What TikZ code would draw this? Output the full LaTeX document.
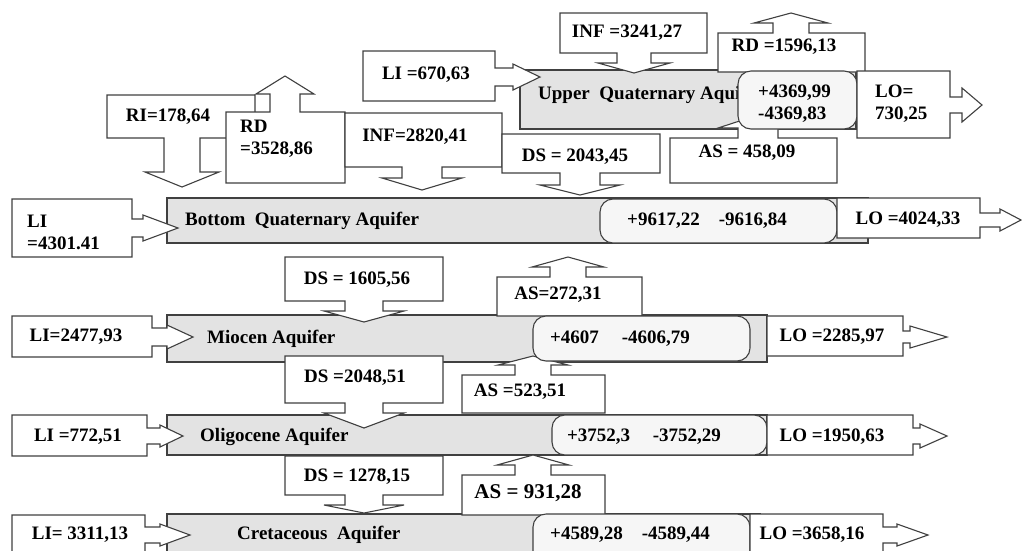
\documentclass[tikz,border=0pt]{standalone}
\usepackage{fontspec}
\setmainfont{Liberation Serif}
\usepackage{tikz}

\newcommand{\downcall}[9]{\draw[cbox] (#1,#2) -- (#3,#2) -- (#3,#4) -- ({#5+#6},#4) -- ({#5+#6},#8) -- ({#5+#7},#8) -- (#5,#9) -- ({#5-#7},#8) -- ({#5-#6},#8) -- ({#5-#6},#4) -- (#1,#4) -- cycle;}
\newcommand{\upcall}[9]{\draw[cbox] (#1,#4) -- (#3,#4) -- (#3,#2) -- ({#5+#6},#2) -- ({#5+#6},#8) -- ({#5+#7},#8) -- (#5,#9) -- ({#5-#7},#8) -- ({#5-#6},#8) -- ({#5-#6},#2) -- (#1,#2) -- cycle;}
\newcommand{\rightcall}[9]{\draw[cbox] (#1,#2) -- (#3,#2) -- (#3,{#5-#6}) -- (#8,{#5-#6}) -- (#8,{#5-#7}) -- (#9,#5) -- (#8,{#5+#7}) -- (#8,{#5+#6}) -- (#3,{#5+#6}) -- (#3,#4) -- (#1,#4) -- cycle;}

\begin{document}
\begin{tikzpicture}[x=1pt,y=-1pt]
	\tikzstyle{cbox}=[draw=black!75,fill=white,line width=1.1pt]
	\tikzstyle{aquifer}=[draw=black!75,fill=gray!22,line width=1.1pt]
	\tikzstyle{balance}=[draw=black!75,fill=gray!7,line width=1.1pt,rounded corners=13pt]
	\tikzstyle{lbl}=[inner sep=0pt,font=\bfseries\fontsize{19}{22}\selectfont]

	\useasboundingbox (0,0) rectangle (1022,550);
	\clip (0,0) rectangle (1022,550);

	\draw[aquifer] (520,70) rectangle (856,129);
	\node[lbl,anchor=west](upper) at (538,95) {Upper\hspace{0.25em} Quaternary Aquifer};
	\draw[aquifer] (167,198) rectangle (868,243);
	\node[lbl,anchor=west](bottom) at (185,221) {Bottom\hspace{0.25em} Quaternary Aquifer};
	\draw[aquifer] (167,315) rectangle (767,362);
	\node[lbl,anchor=west](miocen) at (207,339) {Miocen Aquifer};
	\draw[aquifer] (167,415) rectangle (767,455);
	\node[lbl,anchor=west](oligo) at (200,437) {Oligocene Aquifer};
	\draw[aquifer] (167,514) rectangle (760,600);
	\node[lbl,anchor=west](creta) at (237,535) {Cretaceous\hspace{0.25em} Aquifer};

	\downcall{560}{13}{707}{53}{634}{17}{36}{63}{73}
	\node[lbl](infU) at (627,33) {INF =3241,27};
	\upcall{718}{33}{865}{72}{791}{18}{37}{23}{13}
	\node[lbl](rdU) at (784,47) {RD =1596,13};
	\rightcall{363}{51}{495}{101}{77}{9}{13}{513}{540}
	\node[lbl](liU) at (426,75) {LI =670,63};
	\upcall{670}{138}{837}{183}{758}{20}{40}{128}{115}
	\node[lbl](asU) at (747,153) {AS = 458,09};

	\downcall{107}{95}{255}{138}{182}{18}{37}{172}{187}
	\node[lbl](riB) at (168,117) {RI=178,64};
	\upcall{226}{112}{345}{183}{285}{15}{29}{94}{76}
	\node[lbl,anchor=west,align=left](rdB) at (240,139) {RD\\=3528,86};
	\downcall{345}{113}{502}{167}{422}{20}{40}{178}{190}
	\node[lbl](infB) at (415,137) {INF=2820,41};
	\downcall{502}{134}{660}{173}{580}{20}{40}{185}{195}
	\node[lbl](dsB) at (575,157) {DS = 2043,45};
	\rightcall{12}{199}{132}{257}{228}{9}{13}{143}{178}
	\node[lbl,anchor=west,align=left](liB) at (27,232) {LI\\=4301.41};

	\downcall{285}{257}{443}{301}{364}{19}{40}{311}{322}
	\node[lbl](dsM) at (357,280) {DS = 1605,56};
	\upcall{497}{277}{642}{316}{568}{18}{36}{267}{257}
	\node[lbl](asM) at (558,295) {AS=272,31};
	\rightcall{12}{316}{152}{357}{337}{9}{12}{167}{193}
	\node[lbl](liM) at (76,337) {LI=2477,93};
	\upcall{462}{375}{605}{413}{533}{18}{35}{365}{356}
	\node[lbl](asO) at (520,392) {AS =523,51};

	\downcall{285}{356}{443}{403}{364}{19}{40}{413}{428}
	\node[lbl](dsO) at (355,378) {DS =2048,51};
	\rightcall{12}{415}{147}{456}{436}{8}{11}{160}{183}
	\node[lbl](liO) at (78,437) {LI =772,51};
	\upcall{462}{475}{605}{515}{533}{18}{36}{465}{455}
	\node[lbl,font=\bfseries\fontsize{21}{24}\selectfont](asC) at (528,493) {AS = 931,28};

	\downcall{285}{456}{443}{495}{364}{19}{40}{505}{513}
	\node[lbl](dsC) at (357,477) {DS = 1278,15};
	\rightcall{12}{515}{145}{600}{535}{8}{11}{160}{190}
	\node[lbl](liC) at (80,535) {LI= 3311,13};

	\draw[balance] (738,71) rectangle (857,129);
	\node[lbl,anchor=west,align=left](balU) at (758,104) {+4369,99\\-4369,83};
	\draw[balance] (600,199) rectangle (837,243);
	\node[lbl](balB) at (707,221) {+9617,22\hspace{1em}-9616,84};
	\draw[balance] (533,316) rectangle (750,361);
	\node[lbl](balM) at (620,339) {+4607\hspace{1.2em}-4606,79};
	\draw[balance] (552,415) rectangle (767,455);
	\node[lbl](balO) at (644,437) {+3752,3\hspace{1.2em}-3752,29};
	\draw[balance] (533,514) rectangle (750,600);
	\node[lbl](balC) at (630,535) {+4589,28\hspace{1em}-4589,44};

	\rightcall{857}{71}{950}{138}{105}{8}{17}{962}{982}
	\node[lbl,anchor=west,align=left](loU) at (875,104) {LO=\\730,25};
	\rightcall{837}{198}{980}{238}{220}{7}{11}{1000}{1021}
	\node[lbl](loB) at (908,220) {LO =4024,33};
	\rightcall{767}{316}{903}{356}{337}{6}{11}{910}{947}
	\node[lbl](loM) at (832,337) {LO =2285,97};
	\rightcall{767}{415}{913}{455}{436}{8}{12}{920}{947}
	\node[lbl](loO) at (832,437) {LO =1950,63};
	\rightcall{750}{514}{883}{600}{535}{8}{11}{897}{928}
	\node[lbl](loC) at (812,535) {LO =3658,16};
\end{tikzpicture}
\end{document}
